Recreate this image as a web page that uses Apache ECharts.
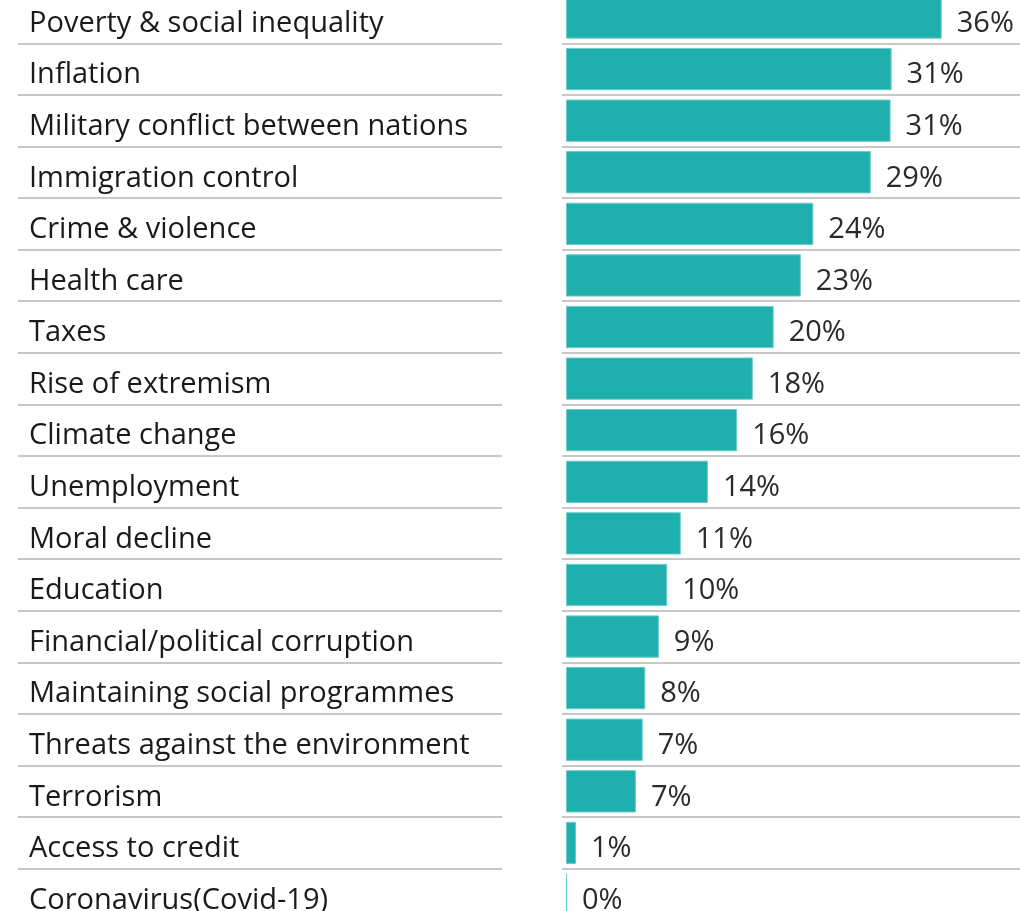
<!DOCTYPE html>
<html>
<head>
<meta charset="utf-8">
<script src="https://cdn.jsdelivr.net/npm/echarts@6/dist/echarts.min.js"></script>
<style>
html,body{margin:0;padding:0;background:#fff;}
#chart{width:1020px;height:911px;}
</style>
</head>
<body>
<div id="chart"></div>
<script>
const categories = [
  "Poverty & social inequality",
  "Inflation",
  "Military conflict between nations",
  "Immigration control",
  "Crime & violence",
  "Health care",
  "Taxes",
  "Rise of extremism",
  "Climate change",
  "Unemployment",
  "Moral decline",
  "Education",
  "Financial/political corruption",
  "Maintaining social programmes",
  "Threats against the environment",
  "Terrorism",
  "Access to credit",
  "Coronavirus(Covid-19)"
];
const values = [36.0, 31.2, 31.1, 29.2, 23.7, 22.5, 19.9, 17.9, 16.4, 13.6, 11.0, 9.7, 8.9, 7.6, 7.35, 6.7, 0.96, 0.1];
const valueLabels = ["36%", "31%", "31%", "29%", "24%", "23%", "20%", "18%", "16%", "14%", "11%", "10%", "9%", "8%", "7%", "7%", "1%", "0%"];

const FONT = "'Open Sans', sans-serif";
const chart = echarts.init(document.getElementById('chart'), null, {renderer: 'canvas'});
const splitStyle = {show: true, lineStyle: {color: '#c8c8c8', width: 2}};
const TOP = -8.3, H = 928.6, TEXT_SHIFT = 6;

chart.setOption({
  animation: false,
  backgroundColor: '#ffffff',
  grid: [
    {left: 18, width: 484, top: TOP, height: H, outerBoundsMode: 'none', containLabel: false},
    {left: 562, width: 458, top: TOP, height: H, outerBoundsMode: 'none', containLabel: false},
    {left: 18, width: 484, top: TOP + TEXT_SHIFT, height: H, outerBoundsMode: 'none', containLabel: false}
  ],
  xAxis: [
    {gridIndex: 0, type: 'value', min: 0, max: 1, show: false},
    {gridIndex: 1, type: 'value', min: -0.38, max: 43.5, show: false},
    {gridIndex: 2, type: 'value', min: 0, max: 1, show: false}
  ],
  yAxis: [
    {
      gridIndex: 0, type: 'category', data: categories, inverse: true,
      axisLine: {show: false}, axisTick: {show: false},
      splitLine: splitStyle,
      axisLabel: {show: false}
    },
    {
      gridIndex: 1, type: 'category', data: categories, inverse: true,
      axisLine: {show: false}, axisTick: {show: false},
      splitLine: splitStyle,
      axisLabel: {show: false}
    },
    {
      gridIndex: 2, type: 'category', data: categories, inverse: true,
      axisLine: {show: false}, axisTick: {show: false},
      splitLine: {show: false},
      axisLabel: {inside: true, align: 'left', margin: 11, color: '#1a1a1a', fontSize: 29, fontFamily: FONT}
    }
  ],
  series: [{
    type: 'bar',
    xAxisIndex: 1, yAxisIndex: 1,
    data: values,
    barCategoryGap: '18%',
    itemStyle: {color: '#1fafad', borderColor: '#6fcbc9', borderWidth: 1},
    label: {
      show: true, position: 'right', distance: 15, offset: [0, TEXT_SHIFT],
      color: '#2a2a2a', fontSize: 29, fontFamily: FONT,
      formatter: p => valueLabels[p.dataIndex]
    }
  }]
});
</script>
</body>
</html>
